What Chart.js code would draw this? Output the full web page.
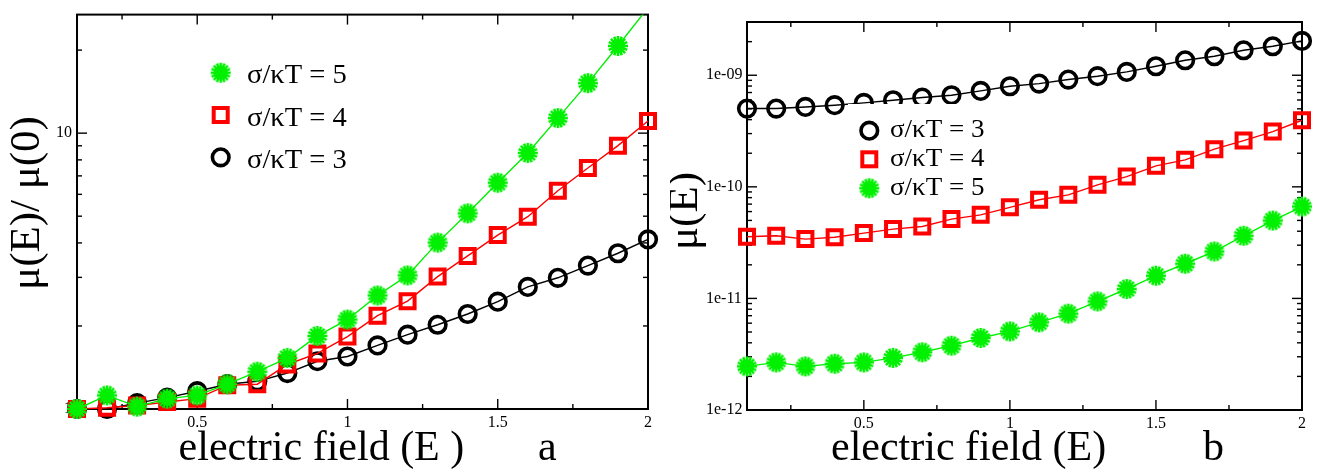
<!DOCTYPE html>
<html><head><meta charset="utf-8">
<script src="https://cdn.jsdelivr.net/npm/chart.js@4.4.1/dist/chart.umd.min.js"></script>
<style>
html,body{margin:0;padding:0;background:#fff;}
#wrap{position:relative;width:1337px;height:471px;overflow:hidden;}
.pane{position:absolute;top:0;}
</style></head><body>
<div id="wrap">
<div class="pane" style="left:0;width:670px;height:471px"><canvas id="ca" width="670" height="471"></canvas></div>
<div class="pane" style="left:670px;width:667px;height:471px"><canvas id="cb" width="667" height="471"></canvas></div>
</div>
<script>
// ---------- data ----------
const fieldE = [0.1,0.2,0.3,0.4,0.5,0.6,0.7,0.8,0.9,1.0,1.1,1.2,1.3,1.4,1.5,1.6,1.7,1.8,1.9,2.0];
// panel a : mu(E)/mu(0)
const ratioS5 = [1.0,1.12,1.02,1.09,1.12,1.23,1.365,1.53,1.84,2.11,2.58,3.05,4.01,5.12,6.61,8.48,11.34,15.18,20.7,28.5];
const ratioS4 = [1.0,1.01,1.03,1.06,1.09,1.22,1.23,1.45,1.59,1.83,2.18,2.46,3.02,3.59,4.27,4.98,6.18,7.48,9.01,11.07];
const ratioS3 = [1.0,1.0,1.05,1.10,1.16,1.23,1.26,1.35,1.49,1.55,1.70,1.86,2.02,2.21,2.45,2.77,2.99,3.31,3.67,4.12];
// panel b : mu(E)
const mobS3 = [5.03e-10,5.03e-10,5.2e-10,5.39e-10,5.65e-10,5.97e-10,6.31e-10,6.62e-10,7.24e-10,7.97e-10,8.42e-10,9.15e-10,9.8e-10,1.071e-9,1.204e-9,1.362e-9,1.479e-9,1.674e-9,1.818e-9,2.03e-9];
const mobS4 = [3.57e-11,3.64e-11,3.40e-11,3.53e-11,3.85e-11,4.18e-11,4.41e-11,5.14e-11,5.61e-11,6.55e-11,7.65e-11,8.48e-11,1.042e-10,1.236e-10,1.542e-10,1.745e-10,2.175e-10,2.597e-10,3.127e-10,3.95e-10];
const mobS5 = [2.46e-12,2.67e-12,2.46e-12,2.60e-12,2.67e-12,2.93e-12,3.29e-12,3.77e-12,4.42e-12,5.06e-12,6.10e-12,7.30e-12,9.40e-12,1.214e-11,1.597e-11,2.045e-11,2.635e-11,3.64e-11,4.99e-11,6.66e-11];
// ticks and labels
const xMajorTicks = [0.5,1,1.5,2];
const xMinorTicks = [0.25,0.75,1.25,1.75];
const yTicksA = [1,10];
const yTickLabelsA = ['1','10'];
const yTicksB = [1e-12,1e-11,1e-10,1e-9];
const yTickLabelsB = ['1e-12','1e-11','1e-10','1e-09'];
const seriesNames = ['σ/κT = 5','σ/κT = 4','σ/κT = 3'];
const xTitleText = 'electric field (E )';
const xTitleTextB = 'electric field (E)';
const yTitleA = 'μ(E)/ μ(0)';
const yTitleB = 'μ(E)';
const panelA = 'a', panelB = 'b';

// ---------- styles ----------
const GREEN = '#00f000', RED = '#ff0000', BLACK = '#000000';
const SERIF = '"Liberation Serif","Times New Roman",serif';

function makeStar(color){
  const s = 24, c = document.createElement('canvas');
  c.width = s; c.height = s;
  const g = c.getContext('2d');
  g.translate(s/2, s/2);
  g.fillStyle = color; g.strokeStyle = color; g.lineWidth = 2.6;
  g.beginPath(); g.arc(0,0,7,0,Math.PI*2); g.fill();
  for (let i=0;i<8;i++){
    const a = i*Math.PI/8;
    g.beginPath();
    g.moveTo(-10*Math.cos(a), -10*Math.sin(a));
    g.lineTo(10*Math.cos(a), 10*Math.sin(a));
    g.stroke();
  }
  return c;
}
const starImg = makeStar(GREEN);

const styleOf = {
  s5: {color: GREEN, pointStyle: starImg, radius: 9, bw: 1},
  s4: {color: RED, pointStyle: 'rect', radius: 9.9, bw: 4},
  s3: {color: BLACK, pointStyle: 'circle', radius: 8.3, bw: 3.6}
};

function pts(ys){ return fieldE.map((x,i)=>({x:x, y:ys[i]})); }

function ds(label, ys, st){
  return {
    label, data: pts(ys),
    borderColor: st.color, backgroundColor: 'rgba(0,0,0,0)',
    borderWidth: 1.4,
    pointStyle: st.pointStyle,
    pointBorderColor: st.color,
    pointBackgroundColor: 'rgba(0,0,0,0)',
    pointBorderWidth: st.bw,
    pointRadius: (c)=> (c.parsed && c.parsed.y > c.chart.scales.y.max) ? 0 : st.radius,
    tension: 0,
    clip: {left: 25, right: 25, top: 0, bottom: 25}
  };
}

function drawMarker(ctx, st, x, y){
  ctx.save();
  ctx.strokeStyle = st.color; ctx.lineWidth = st.bw;
  if (st.pointStyle === 'circle'){
    ctx.beginPath(); ctx.arc(x,y,st.radius,0,Math.PI*2); ctx.stroke();
  } else if (st.pointStyle === 'rect'){
    const h = st.radius*Math.SQRT1_2;
    ctx.strokeRect(x-h, y-h, 2*h, 2*h);
  } else {
    ctx.drawImage(st.pointStyle, x-st.pointStyle.width/2, y-st.pointStyle.height/2);
  }
  ctx.restore();
}

// frame + inward ticks (all four sides)
const frameTicks = {
  id: 'frameTicks',
  beforeDatasetsDraw(chart, args, o){
    const {ctx, chartArea: a, scales: {x, y}} = chart;
    ctx.save();
    ctx.strokeStyle = '#000'; ctx.lineWidth = 1.4;
    const seg = (x1,y1,x2,y2)=>{ctx.beginPath();ctx.moveTo(x1,y1);ctx.lineTo(x2,y2);ctx.stroke();};
    const xt = (v,len)=>{const p=x.getPixelForValue(v); seg(p,a.bottom,p,a.bottom-len); seg(p,a.top,p,a.top+len);};
    const yt = (v,len)=>{const p=y.getPixelForValue(v); seg(a.left,p,a.left+len,p); seg(a.right,p,a.right-len,p);};
    xMajorTicks.forEach(v=>xt(v,10));
    xMinorTicks.forEach(v=>xt(v,5));
    const lo = Math.floor(Math.log10(y.min)), hi = Math.ceil(Math.log10(y.max));
    for (let d=lo; d<=hi; d++){
      const base = Math.pow(10,d);
      if (base >= y.min*0.999 && base <= y.max*1.001) yt(base, 10);
      for (let m=2;m<=9;m++){
        const v = m*base;
        if (v > y.min && v < y.max) yt(v, 5);
      }
    }
    ctx.lineWidth = 2;
    ctx.strokeRect(a.left, a.top, a.right-a.left, a.bottom-a.top);
    ctx.restore();
  }
};

// legend + titles
const annot = {
  id: 'annot',
  afterDatasetsDraw(chart, args, o){
    const ctx = chart.ctx;
    ctx.save();
    if (o.box){ ctx.fillStyle = '#fff'; ctx.fillRect(o.box[0],o.box[1],o.box[2],o.box[3]); }
    o.legend.forEach(it=>{
      drawMarker(ctx, it.st, o.mx, it.y);
      ctx.save();
      ctx.fillStyle = '#000';
      ctx.font = o.lfont;
      ctx.textBaseline = 'alphabetic'; ctx.textAlign = 'left';
      ctx.translate(o.tx, it.y + o.bOff);
      ctx.scale(o.lsx, 1);
      ctx.fillText(it.text, 0, 0);
      ctx.restore();
    });
    o.texts.forEach(t=>{
      ctx.save();
      ctx.fillStyle = '#000'; ctx.font = t.font;
      ctx.textBaseline = 'alphabetic'; ctx.textAlign = t.align || 'left';
      ctx.translate(t.x, t.y);
      if (t.rot) ctx.rotate(t.rot);
      if (t.sx) ctx.scale(t.sx, 1);
      ctx.fillText(t.text, 0, 0);
      ctx.restore();
    });
    ctx.restore();
  }
};

function scales(yType, yMin, yMax, yTicks, yLabels, yWidth, xHeight, crossAlign){
  return {
    x: {
      type: 'linear', min: 0.1, max: 2,
      grid: {display: false, drawTicks: false}, border: {display: false},
      afterBuildTicks: s => { s.ticks = xMajorTicks.map(v=>({value:v})); },
      afterFit: s => { s.height = xHeight; },
      ticks: {color:'#000', font:{family: SERIF, size: 16}, padding: 4, maxRotation: 0,
              callback: v => String(v)}
    },
    y: {
      type: yType, min: yMin, max: yMax,
      grid: {display: false, drawTicks: false}, border: {display: false},
      afterBuildTicks: s => { s.ticks = yTicks.map(v=>({value:v})); },
      afterFit: s => { s.width = yWidth; },
      ticks: {color:'#000', font:{family: SERIF, size: 16}, padding: 5, crossAlign: crossAlign,
              callback: v => { const i = yTicks.findIndex(t=>Math.abs(t-v)/t < 1e-6); return i>=0 ? yLabels[i] : ''; }}
    }
  };
}

const common = {responsive: false, animation: false, events: [], devicePixelRatio: 1};

new Chart(document.getElementById('ca'), {
  type: 'line',
  data: {datasets: [ds(seriesNames[0], ratioS5, styleOf.s5), ds(seriesNames[1], ratioS4, styleOf.s4), ds(seriesNames[2], ratioS3, styleOf.s3)]},
  options: Object.assign({}, common, {
    layout: {padding: {left: 0, right: 22, top: 9, bottom: 0}},
    scales: scales('logarithmic', 1, 26.9, yTicksA, yTickLabelsA, 77, 62, 'near'),
    plugins: {
      legend: {display: false}, tooltip: {enabled: false},
      annot: {
        mx: 220.7, tx: 247, bOff: 10.5, lsx: 1.02, lfont: '28px ' + SERIF,
        legend: [{st: styleOf.s5, y: 72.7, text: seriesNames[0]},
                 {st: styleOf.s4, y: 115, text: seriesNames[1]},
                 {st: styleOf.s3, y: 157.3, text: seriesNames[2]}],
        texts: [
          {text: xTitleText, x: 178.6, y: 460, font: '42px ' + SERIF},
          {text: panelA, x: 538, y: 460, font: '42px ' + SERIF},
          {text: yTitleA, x: 39, y: 203, rot: -Math.PI/2, align: 'center', font: '43px ' + SERIF}
        ]
      }
    }
  }),
  plugins: [frameTicks, annot]
});

new Chart(document.getElementById('cb'), {
  type: 'line',
  data: {datasets: [ds(seriesNames[2], mobS3, styleOf.s3), ds(seriesNames[1], mobS4, styleOf.s4), ds(seriesNames[0], mobS5, styleOf.s5)]},
  options: Object.assign({}, common, {
    layout: {padding: {left: 36, right: 35, top: 22, bottom: 0}},
    scales: scales('logarithmic', 1e-12, 3e-9, yTicksB, yTickLabelsB, 41, 61, 'far'),
    plugins: {
      legend: {display: false}, tooltip: {enabled: false},
      annot: {
        box: [178, 104, 142, 100],
        mx: 199.3, tx: 220, bOff: 6.5, lsx: 1.04, lfont: '26px ' + SERIF,
        legend: [{st: styleOf.s3, y: 130.7, text: seriesNames[2]},
                 {st: styleOf.s4, y: 159.3, text: seriesNames[1]},
                 {st: styleOf.s5, y: 188.3, text: seriesNames[0]}],
        texts: [
          {text: xTitleTextB, x: 161, y: 460, font: '42px ' + SERIF},
          {text: panelB, x: 533, y: 460, font: '42px ' + SERIF},
          {text: yTitleB, x: 27, y: 211, rot: -Math.PI/2, align: 'center', font: '43px ' + SERIF}
        ]
      }
    }
  }),
  plugins: [frameTicks, annot]
});
</script>
</body></html>
